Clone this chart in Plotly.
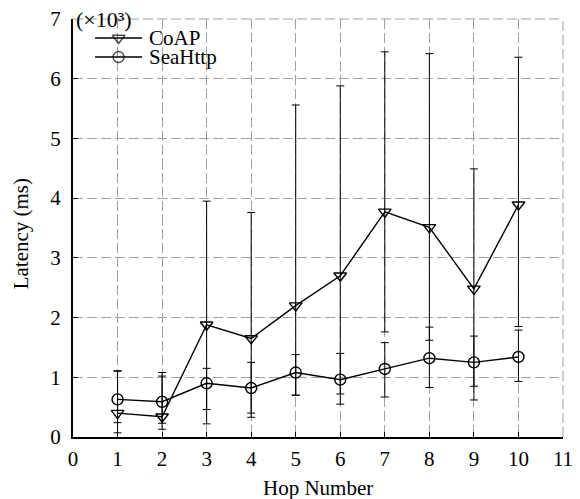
import plotly.graph_objects as go

hops = [1, 2, 3, 4, 5, 6, 7, 8, 9, 10]

# values in thousands of ms (axis shows x10^3)
coap_mean = [0.40, 0.34, 1.88, 1.65, 2.20, 2.70, 3.77, 3.51, 2.48, 3.89]
coap_upper = [1.10, 1.02, 3.95, 3.76, 5.56, 5.88, 6.45, 6.42, 4.49, 6.36]
coap_lower = [0.07, 0.23, 0.22, 0.33, 0.70, 0.72, 1.76, 1.62, 0.62, 1.85]

sea_mean = [0.63, 0.59, 0.90, 0.82, 1.08, 0.96, 1.14, 1.32, 1.25, 1.34]
sea_upper = [1.11, 1.08, 1.15, 1.25, 1.38, 1.40, 1.58, 1.84, 1.69, 1.79]
sea_lower = [0.24, 0.13, 0.46, 0.40, 0.70, 0.55, 0.67, 0.83, 0.85, 0.93]

series_names = ["CoAP", "SeaHttp"]
series_symbols = ["triangle-down-open", "circle-open"]

x_ticks = list(range(0, 12))
y_ticks = list(range(0, 8))

FONT = "Liberation Serif"
GRID = "#a0a0a0"
GDASH = "10px,4px"
FS = 21


def err(mean, up, lo):
    return dict(
        type="data", symmetric=False,
        array=[u - m for u, m in zip(up, mean)],
        arrayminus=[m - l for m, l in zip(mean, lo)],
        color="black", thickness=1, width=4,
    )


fig = go.Figure()
for name, sym, mean, up, lo in [
    (series_names[0], series_symbols[0], coap_mean, coap_upper, coap_lower),
    (series_names[1], series_symbols[1], sea_mean, sea_upper, sea_lower),
]:
    fig.add_trace(go.Scatter(
        x=hops, y=mean, name=name, mode="lines+markers", showlegend=False,
        line=dict(color="black", width=1.4),
        marker=dict(symbol=sym, size=11, color="black", line=dict(width=1.4)),
        error_y=err(mean, up, lo),
    ))

# custom legend (layout positions in an overlay axis spanning the plot area)
leg_y = [0.9545, 0.909]
leg_x0, leg_x1 = 0.045, 0.141
for name, sym, ly in zip(series_names, series_symbols, leg_y):
    fig.add_trace(go.Scatter(
        x=[leg_x0, (leg_x0 + leg_x1) / 2, leg_x1], y=[ly, ly, ly],
        xaxis="x2", yaxis="y2", mode="lines+markers", showlegend=False,
        hoverinfo="skip",
        line=dict(color="black", width=1.4),
        marker=dict(symbol=[sym] * 3, size=[0, 11, 0], color="black", line=dict(width=1.4)),
    ))
    fig.add_annotation(text=name, xref="paper", yref="paper", x=0.152, y=ly,
                       xanchor="left", yanchor="middle", showarrow=False,
                       font=dict(size=FS, family=FONT))

grid = dict(showgrid=True, gridcolor=GRID, griddash=GDASH, gridwidth=1)

fig.update_layout(
    width=580, height=499,
    margin=dict(l=73, r=17, t=19, b=62),
    paper_bgcolor="white", plot_bgcolor="white",
    font=dict(family=FONT, size=FS, color="black"),
    showlegend=False,
    xaxis=dict(range=[0, 11], tickvals=x_ticks, ticks="inside", ticklen=5,
               tickcolor="black", showline=True, linecolor="black", linewidth=2,
               zeroline=False, ticklabelstandoff=2, automargin=False,
               tickfont=dict(size=FS), **grid),
    yaxis=dict(range=[0, 7], tickvals=y_ticks, ticks="inside", ticklen=5,
               tickcolor="black", showline=True, linecolor="black", linewidth=2,
               zeroline=False, ticklabelstandoff=6, automargin=False,
               tickfont=dict(size=FS), **grid),
    xaxis2=dict(range=[0, 1], overlaying="x", visible=False, fixedrange=True),
    yaxis2=dict(range=[0, 1], overlaying="y", visible=False, fixedrange=True),
)

# axis titles
fig.add_annotation(text="Hop Number", xref="paper", yref="paper", x=0.5, y=-0.122,
                   xanchor="center", yanchor="middle", showarrow=False,
                   font=dict(size=FS, family=FONT))
fig.add_annotation(text="Latency (ms)", xref="paper", yref="paper", x=-0.106, y=0.485,
                   xanchor="center", yanchor="middle", showarrow=False, textangle=-90,
                   font=dict(size=FS, family=FONT))

# top and right dashed border gridlines
fig.add_shape(type="line", xref="paper", yref="paper", x0=0, x1=1, y0=1, y1=1,
              line=dict(color=GRID, width=1, dash=GDASH))
fig.add_shape(type="line", xref="paper", yref="paper", x0=1, x1=1, y0=0, y1=1,
              line=dict(color=GRID, width=1, dash=GDASH))

fig.add_annotation(text="(×10³)", xref="paper", yref="paper",
                   x=0.0, y=1.0, xanchor="left", yanchor="middle",
                   showarrow=False, font=dict(size=FS + 1, family=FONT), xshift=1, yshift=0)

fig.write_html("out.html")
